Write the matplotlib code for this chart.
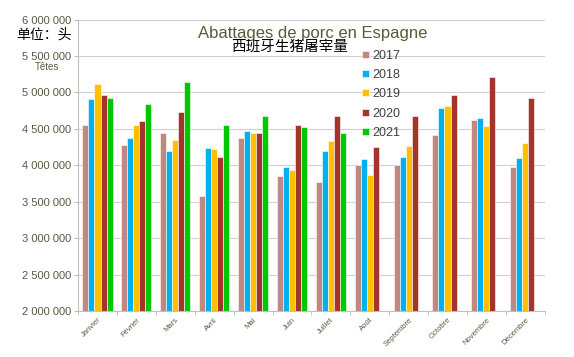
import matplotlib.pyplot as plt
import numpy as np

plt.rcParams['font.family'] = ['Liberation Sans', 'Noto Sans CJK SC', 'DejaVu Sans']

months = ['Janvier', 'Février', 'Mars', 'Avril', 'Mai', 'Juin', 'Juillet',
          'Août', 'Septembre', 'Octobre', 'Novembre', 'Décembre']
years = ['2017', '2018', '2019', '2020', '2021']
colors = ['#bf8880', '#00b0f0', '#ffc000', '#a5342a', '#00c800']

v2017 = [4.55, 4.28, 4.44, 3.58, 4.37, 3.85, 3.77, 4.01, 4.01, 4.42, 4.62, 3.98]
v2018 = [4.91, 4.37, 4.20, 4.24, 4.47, 3.97, 4.19, 4.08, 4.12, 4.78, 4.65, 4.10]
v2019 = [5.11, 4.56, 4.35, 4.23, 4.45, 3.94, 4.33, 3.86, 4.26, 4.81, 4.54, 4.31]
v2020 = [4.96, 4.61, 4.73, 4.12, 4.45, 4.55, 4.68, 4.25, 4.68, 4.97, 5.21, 4.92]
v2021 = [4.92, 4.84, 5.14, 4.55, 4.68, 4.53, 4.45]
series = [v2017, v2018, v2019, v2020, v2021]

fig = plt.figure(figsize=(5.74, 3.57), dpi=100)
ax = fig.add_axes([0.136, 0.129, 0.813, 0.816])

x = np.arange(len(months))
w = 0.155
for i, (vals, yr, c) in enumerate(zip(series, years, colors)):
    xs = x[:len(vals)] + (i - 2) * w
    ax.bar(xs, np.array(vals) * 1e6 - 2e6, bottom=2e6, width=w, color=c,
           edgecolor='white', linewidth=0.4, label=yr, zorder=3)

ax.set_xlim(-0.5, 11.5)
ax.set_ylim(2e6, 6e6)
yt = np.arange(2e6, 6.01e6, 5e5)
ax.set_yticks(yt)
ax.set_yticklabels(['{:,.0f}'.format(v).replace(',', ' ') for v in yt],
                   fontsize=8, color='#595940')
ax.set_xticks(x)
ax.set_xticklabels(months, rotation=45, ha='right', rotation_mode='anchor',
                   fontsize=5.5, color='#595940')
ax.set_xticks(np.arange(-0.5, 12, 1), minor=True)
ax.tick_params(axis='x', which='major', length=0, pad=4)
ax.tick_params(axis='x', which='minor', length=3, color='#bfbfbf')
ax.tick_params(axis='y', length=3, color='#bfbfbf', pad=2)
ax.grid(axis='y', color='#d0d0d0', linewidth=0.8, zorder=0)
for s in ['top', 'right']:
    ax.spines[s].set_visible(False)
for s in ['left', 'bottom']:
    ax.spines[s].set_color('#bfbfbf')

leg = ax.legend(loc='upper left', bbox_to_anchor=(0.585, 0.935), frameon=False,
                fontsize=9, handlelength=0.5, handleheight=0.5,
                handletextpad=0.3, labelspacing=0.58, labelcolor='#404040')

fig.text(0.545, 0.905, 'Abattages de porc en Espagne', ha='center',
         va='center', fontsize=12, color='#5a5a3a')
fig.text(0.505, 0.868, '西班牙生猪屠宰量', ha='center', va='center',
         fontsize=10.5, color='black')
fig.text(0.077, 0.903, '单位：头', ha='center', va='center', fontsize=10,
         color='black')
fig.text(0.082, 0.812, 'Têtes', ha='center', va='center', fontsize=7,
         color='#595940')

fig.savefig('out.png', dpi=100)
